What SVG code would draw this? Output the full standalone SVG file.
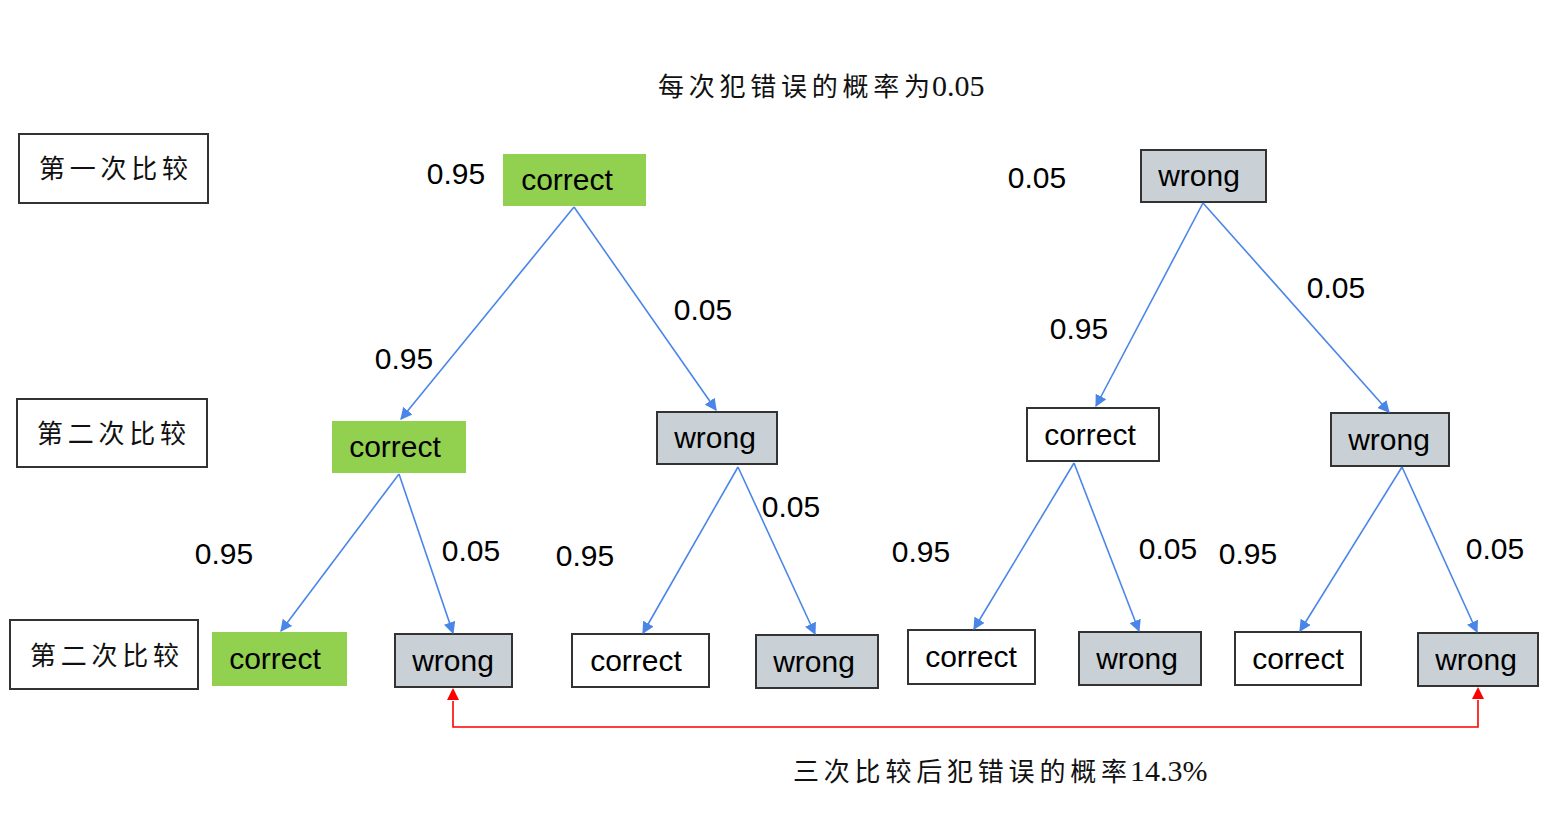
<svg xmlns="http://www.w3.org/2000/svg" width="1568" height="840" viewBox="0 0 1568 840">
<style>
.lbl rect{fill:#fff;stroke:#333;stroke-width:2}
.cn{font-family:"Liberation Serif","Noto Sans CJK SC",serif;font-size:26px;fill:#111}
.num{font-family:"Liberation Serif",serif;font-size:30px;fill:#111}
.g rect{fill:#92d050;stroke:none}
.w rect{fill:#c9d0d6;stroke:#333;stroke-width:2}
.c rect{fill:#fff;stroke:#333;stroke-width:2}
.t{font-family:"Liberation Sans",Arial,sans-serif;font-size:30px;fill:#000;text-anchor:middle}
.p{font-family:"Liberation Sans",Arial,sans-serif;font-size:30px;fill:#000;text-anchor:middle}
.e{stroke:#4a86e8;stroke-width:1.6;fill:none;marker-end:url(#ab)}
</style>
<defs>
<marker id="ab" viewBox="0 0 10 10" refX="9" refY="5" markerWidth="12" markerHeight="12" markerUnits="userSpaceOnUse" orient="auto"><path d="M0,0 L10,5 L0,10 z" fill="#4a86e8"/></marker>
</defs>
<rect width="1568" height="840" fill="#fff"/>
<text class="cn" x="658" y="96" textLength="272" lengthAdjust="spacing">每次犯错误的概率为</text>
<text class="num" x="932" y="96">0.05</text>
<g id="level1" class="lbl"><rect x="19" y="134" width="189" height="69"/><text class="cn" x="39" y="178" textLength="149" lengthAdjust="spacing">第一次比较</text></g>
<g id="level2" class="lbl"><rect x="17" y="399" width="190" height="68"/><text class="cn" x="37" y="443" textLength="149" lengthAdjust="spacing">第二次比较</text></g>
<g id="level3" class="lbl"><rect x="10" y="620" width="188" height="69"/><text class="cn" x="30" y="665" textLength="149" lengthAdjust="spacing">第二次比较</text></g>

<g id="n1" class="g"><rect x="503" y="154" width="143" height="52"/><text class="t" x="567" y="190">correct</text></g>
<g id="n2" class="w"><rect x="1141" y="150" width="125" height="52"/><text class="t" x="1199" y="186">wrong</text></g>

<g id="n3" class="g"><rect x="332" y="421" width="134" height="52"/><text class="t" x="395" y="457">correct</text></g>
<g id="n4" class="w"><rect x="657" y="412" width="120" height="52"/><text class="t" x="715" y="448">wrong</text></g>
<g id="n5" class="c"><rect x="1027" y="408" width="132" height="53"/><text class="t" x="1090" y="445">correct</text></g>
<g id="n6" class="w"><rect x="1331" y="413" width="118" height="53"/><text class="t" x="1389" y="450">wrong</text></g>

<g id="n7" class="g"><rect x="212" y="632" width="135" height="54"/><text class="t" x="275" y="669">correct</text></g>
<g id="n8" class="w"><rect x="395" y="634" width="117" height="53"/><text class="t" x="453" y="671">wrong</text></g>
<g id="n9" class="c"><rect x="572" y="634" width="137" height="53"/><text class="t" x="636" y="671">correct</text></g>
<g id="n10" class="w"><rect x="756" y="635" width="122" height="53"/><text class="t" x="814" y="672">wrong</text></g>
<g id="n11" class="c"><rect x="908" y="630" width="127" height="54"/><text class="t" x="971" y="667">correct</text></g>
<g id="n12" class="w"><rect x="1079" y="632" width="122" height="53"/><text class="t" x="1137" y="669">wrong</text></g>
<g id="n13" class="c"><rect x="1235" y="632" width="126" height="53"/><text class="t" x="1298" y="669">correct</text></g>
<g id="n14" class="w"><rect x="1418" y="633" width="120" height="53"/><text class="t" x="1476" y="670">wrong</text></g>

<g id="connectors">
<line class="e" x1="574" y1="207" x2="401" y2="419"/>
<line class="e" x1="574" y1="207" x2="716" y2="410"/>
<line class="e" x1="1203" y1="203" x2="1096" y2="406"/>
<line class="e" x1="1203" y1="203" x2="1389" y2="412"/>
<line class="e" x1="399" y1="474" x2="281" y2="631"/>
<line class="e" x1="399" y1="474" x2="453" y2="633"/>
<line class="e" x1="738" y1="467" x2="643" y2="633"/>
<line class="e" x1="738" y1="467" x2="815" y2="634"/>
<line class="e" x1="1074" y1="463" x2="974" y2="629"/>
<line class="e" x1="1074" y1="463" x2="1139" y2="631"/>
<line class="e" x1="1402" y1="467" x2="1300" y2="631"/>
<line class="e" x1="1402" y1="467" x2="1477" y2="632"/>
<path d="M453,701 L453,727 L1478,727 L1478,700" fill="none" stroke="#ff0000" stroke-width="1.6"/>
<path d="M447,700 L453,688 L459,700 z" fill="#ff0000"/>
<path d="M1472,699 L1478,687 L1484,699 z" fill="#ff0000"/>
</g>

<g id="probs">
<text class="p" x="456" y="184">0.95</text>
<text class="p" x="1037" y="188">0.05</text>
<text class="p" x="703" y="320">0.05</text>
<text class="p" x="404" y="369">0.95</text>
<text class="p" x="1079" y="339">0.95</text>
<text class="p" x="1336" y="298">0.05</text>
<text class="p" x="224" y="564">0.95</text>
<text class="p" x="471" y="561">0.05</text>
<text class="p" x="585" y="566">0.95</text>
<text class="p" x="791" y="517">0.05</text>
<text class="p" x="921" y="562">0.95</text>
<text class="p" x="1168" y="559">0.05</text>
<text class="p" x="1248" y="564">0.95</text>
<text class="p" x="1495" y="559">0.05</text>
</g>
<text class="cn" x="793" y="781" textLength="334" lengthAdjust="spacing">三次比较后犯错误的概率</text>
<text class="num" x="1130" y="781">14.3%</text>
</svg>
